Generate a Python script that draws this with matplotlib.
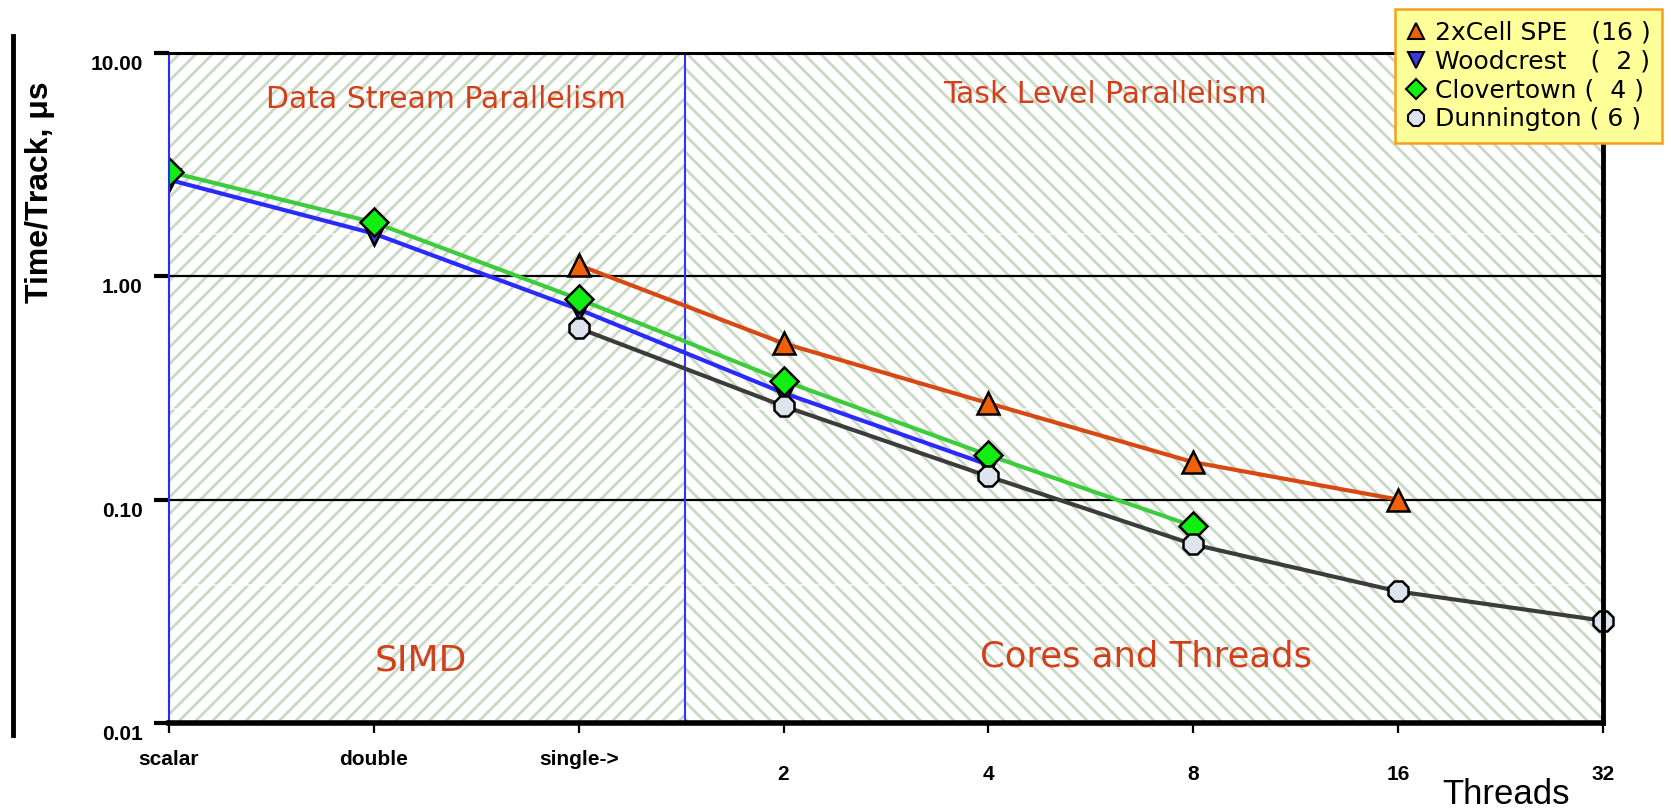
import numpy as np
import matplotlib
matplotlib.use("Agg")
import matplotlib.pyplot as plt
from matplotlib.lines import Line2D
from matplotlib.transforms import offset_copy

# values (time per track, microseconds)
categories = ['scalar', 'double', 'single->', '2', '4', '8', '16', '32']
cell = [np.nan, np.nan, 1.12, 0.50, 0.27, 0.147, 0.10, np.nan]
woodcrest = [2.70, 1.55, 0.71, 0.30, 0.143, np.nan, np.nan, np.nan]
clovertown = [2.93, 1.74, 0.79, 0.34, 0.158, 0.076, np.nan, np.nan]
dunnington = [np.nan, np.nan, 0.585, 0.262, 0.127, 0.063, 0.0388, 0.0287]
legend_labels = ['2xCell SPE   (16 )', 'Woodcrest   (  2 )',
                 'Clovertown (  4 )', 'Dunnington ( 6 )']
ytick_vals = [0.01, 0.1, 1.0, 10.0]
ytick_labels = ['0.01', '0.10', '1.00', '10.00']

narrow = ['Liberation Sans Narrow', 'Liberation Sans', 'DejaVu Sans']
plt.rcParams['hatch.linewidth'] = 2.0
hatch_col = '#c8d9c4'
red_txt = '#d2401a'

x = np.arange(len(categories))
split = 2.52

fig = plt.figure(figsize=(16.71, 8.08), dpi=100)
ax = fig.add_axes([0.1011, 0.1052, 0.8582, 0.8296])
ax.set_yscale('log')
ax.set_xlim(0, 7)
ax.set_ylim(0.01, 10)

# hatched backgrounds of the two regions
ax.axvspan(0, split, facecolor='white', edgecolor=hatch_col, hatch='//', lw=0, zorder=0)
ax.axvspan(split, 7, facecolor='white', edgecolor=hatch_col, hatch='\\\\', lw=0, zorder=0)
# faint seams in the texture
for yf in [0.73, 0.468, 0.206]:
    ax.plot([0, 1], [yf, yf], transform=ax.transAxes, color='white', lw=1.2, alpha=0.8, zorder=0.5)

ax.axhline(1.0, color='black', lw=1.6, zorder=1)
ax.axhline(0.1, color='black', lw=1.6, zorder=1)
ax.axvline(split, color='#3333ff', lw=1.5, zorder=1.5)

ax.plot(x, woodcrest, color='#2a2aff', lw=3, marker='v', ms=16, mfc='#3a3ae0',
        mec='black', mew=1.8, zorder=3)
ax.plot(x, clovertown, color='#3ccc3c', lw=3, marker='D', ms=14, mfc='#11ee11',
        mec='black', mew=1.8, zorder=4)
ax.plot(x, dunnington, color='#3c3c3c', lw=3, marker='8', ms=16, mfc='#dde4ee',
        mec='black', mew=1.8, zorder=5, clip_on=False)
ax.plot(x, cell, color='#d84812', lw=3, marker='^', ms=16, mfc='#f06008',
        mec='black', mew=1.8, zorder=6)

# region labels
ax.text(1.35, 6.2, 'Data Stream Parallelism', color=red_txt, fontsize=21.5,
        ha='center', va='center', zorder=7)
ax.text(4.57, 6.5, 'Task Level Parallelism', color=red_txt, fontsize=21.5,
        ha='center', va='center', zorder=7)
ax.text(1.23, 0.019, 'SIMD', color=red_txt, fontsize=26,
        ha='center', va='center', zorder=7)
ax.text(4.77, 0.0198, 'Cores and Threads', color=red_txt, fontsize=25.5,
        ha='center', va='center', zorder=7)

# spines
for s in ['top', 'right', 'bottom', 'left']:
    ax.spines[s].set_zorder(8)
ax.spines['top'].set_linewidth(2.2)
ax.spines['bottom'].set_linewidth(4.0)
ax.spines['right'].set_linewidth(3.5)
ax.spines['left'].set_color('#2a2aff')
ax.spines['left'].set_linewidth(1.5)

ax.set_yticks(ytick_vals)
ax.yaxis.set_minor_locator(matplotlib.ticker.NullLocator())
ax.tick_params(axis='y', which='major', direction='out', length=11, width=3,
               labelleft=False)
ax.set_xticks(x)
ax.tick_params(axis='x', direction='out', length=7, width=1.6, labelbottom=False)

# y tick labels, shifted down like the original
ytr = offset_copy(ax.get_yaxis_transform(), fig=fig, x=-19, y=-8.5, units='points')
for v, lab in zip(ytick_vals, ytick_labels):
    ax.text(0, v, lab, transform=ytr, ha='right', va='center', fontsize=15,
            fontweight='bold', family=narrow)

# x tick labels: words higher than thread counts
tr_words = offset_copy(ax.get_xaxis_transform(), fig=fig, y=-26, units='points')
tr_nums = offset_copy(ax.get_xaxis_transform(), fig=fig, y=-37, units='points')
for xi, lab in zip(x, categories):
    trans = tr_words if xi < 3 else tr_nums
    ax.text(xi, 0, lab, transform=trans, ha='center', va='center', fontsize=15,
            fontweight='bold', family=narrow)

fig.text(1506 / 1671, 1 - 794 / 808, 'Threads', ha='center', va='center',
         fontsize=25, family=narrow)
fig.text(40 / 1671, 1 - 192 / 808, 'Time/Track, \u03bcs', ha='center', va='center',
         rotation=90, fontsize=23, fontweight='bold', family=narrow)

# thick bar at the far left
fig.add_artist(Line2D([0.0078, 0.0078], [0.09, 0.955], transform=fig.transFigure,
                      color='black', lw=3.5))

handles = [
    Line2D([], [], ls='none', marker='^', ms=12, mfc='#f06008', mec='black', mew=1.5),
    Line2D([], [], ls='none', marker='v', ms=12, mfc='#3a3ae0', mec='black', mew=1.5),
    Line2D([], [], ls='none', marker='D', ms=10, mfc='#11ee11', mec='black', mew=1.5),
    Line2D([], [], ls='none', marker='8', ms=12, mfc='#dde4ee', mec='black', mew=1.5),
]
leg = fig.legend(handles, legend_labels, loc='upper right',
                 bbox_to_anchor=(1662 / 1671, 1 - 9 / 808), fontsize=18,
                 labelspacing=0.2, handlelength=0.8, handletextpad=0.35,
                 borderpad=0.45, borderaxespad=0, fancybox=False, framealpha=1)
leg.get_frame().set_facecolor('#ffff99')
leg.get_frame().set_edgecolor('#f5a020')
leg.get_frame().set_linewidth(1.8)
leg.set_zorder(10)

fig.savefig('out.png', dpi=100)
